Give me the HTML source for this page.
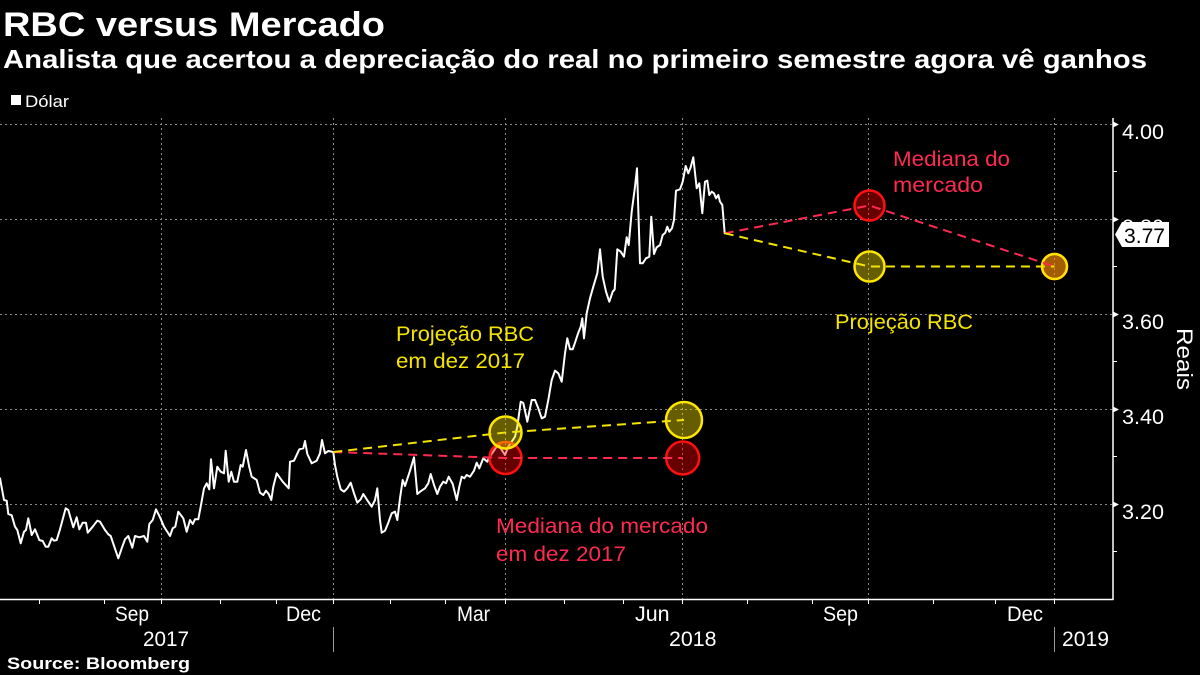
<!DOCTYPE html>
<html>
<head>
<meta charset="utf-8">
<style>
  html,body{margin:0;padding:0;background:#000;}
  svg{display:block;}
  text{font-family:"Liberation Sans", sans-serif;}
</style>
</head>
<body>
<svg width="1200" height="675" viewBox="0 0 1200 675" xmlns="http://www.w3.org/2000/svg">
  <rect x="0" y="0" width="1200" height="675" fill="#000"/>

  <!-- Title -->
  <text x="3" y="36" font-size="34" font-weight="bold" fill="#fff" textLength="382" lengthAdjust="spacingAndGlyphs">RBC versus Mercado</text>
  <text x="3" y="68" font-size="26" font-weight="bold" fill="#fff" textLength="1144" lengthAdjust="spacingAndGlyphs">Analista que acertou a depreciação do real no primeiro semestre agora vê ganhos</text>

  <!-- Legend -->
  <rect x="11" y="95" width="10" height="10" fill="#fff"/>
  <text x="25" y="107" font-size="16.5" fill="#fff" textLength="44" lengthAdjust="spacingAndGlyphs">Dólar</text>

  <!-- Gridlines horizontal -->
  <g stroke="#8a8a8a" stroke-width="1" stroke-dasharray="2,3">
    <line x1="0" y1="124.5" x2="1113" y2="124.5"/>
    <line x1="0" y1="219.5" x2="1113" y2="219.5"/>
    <line x1="0" y1="314.5" x2="1113" y2="314.5"/>
    <line x1="0" y1="409.5" x2="1113" y2="409.5"/>
    <line x1="0" y1="504.5" x2="1113" y2="504.5"/>
  </g>
  <!-- Gridlines vertical -->
  <g stroke="#8a8a8a" stroke-width="1" stroke-dasharray="2,3">
    <line x1="161.5" y1="118" x2="161.5" y2="599"/>
    <line x1="333.5" y1="118" x2="333.5" y2="599"/>
    <line x1="505.5" y1="118" x2="505.5" y2="599"/>
    <line x1="682.5" y1="118" x2="682.5" y2="599"/>
    <line x1="868.5" y1="118" x2="868.5" y2="599"/>
    <line x1="1054.5" y1="118" x2="1054.5" y2="599"/>
  </g>

  <!-- Axes -->
  <line x1="0" y1="599.5" x2="1113.5" y2="599.5" stroke="#fff" stroke-width="1.5"/>
  <line x1="1113" y1="118" x2="1113" y2="600" stroke="#fff" stroke-width="1.5"/>

  <!-- Bottom ticks -->
  <g stroke="#fff" stroke-width="1">
    <line x1="39.5" y1="599" x2="39.5" y2="604"/>
    <line x1="104.5" y1="599" x2="104.5" y2="604"/>
    <line x1="161.5" y1="599" x2="161.5" y2="604"/>
    <line x1="220.5" y1="599" x2="220.5" y2="604"/>
    <line x1="276.5" y1="599" x2="276.5" y2="604"/>
    <line x1="333.5" y1="599" x2="333.5" y2="604"/>
    <line x1="390.5" y1="599" x2="390.5" y2="604"/>
    <line x1="445.5" y1="599" x2="445.5" y2="604"/>
    <line x1="505.5" y1="599" x2="505.5" y2="604"/>
    <line x1="564.5" y1="599" x2="564.5" y2="604"/>
    <line x1="623.5" y1="599" x2="623.5" y2="604"/>
    <line x1="682.5" y1="599" x2="682.5" y2="604"/>
    <line x1="747.5" y1="599" x2="747.5" y2="604"/>
    <line x1="812.5" y1="599" x2="812.5" y2="604"/>
    <line x1="868.5" y1="599" x2="868.5" y2="604"/>
    <line x1="933.5" y1="599" x2="933.5" y2="604"/>
    <line x1="995.5" y1="599" x2="995.5" y2="604"/>
    <line x1="1054.5" y1="599" x2="1054.5" y2="604"/>
  </g>

  <!-- Year separators -->
  <g stroke="#9a9a9a" stroke-width="1">
    <line x1="333.5" y1="627" x2="333.5" y2="652"/>
    <line x1="1054.5" y1="627" x2="1054.5" y2="652"/>
  </g>

  <!-- Month labels -->
  <g font-size="21" fill="#fff">
    <text x="115" y="621" textLength="34" lengthAdjust="spacingAndGlyphs">Sep</text>
    <text x="286" y="621" textLength="35" lengthAdjust="spacingAndGlyphs">Dec</text>
    <text x="457" y="621" textLength="33" lengthAdjust="spacingAndGlyphs">Mar</text>
    <text x="635" y="621" textLength="34.5" lengthAdjust="spacingAndGlyphs">Jun</text>
    <text x="823" y="621" textLength="35" lengthAdjust="spacingAndGlyphs">Sep</text>
    <text x="1007" y="621" textLength="36" lengthAdjust="spacingAndGlyphs">Dec</text>
    <text x="143" y="646" textLength="46" lengthAdjust="spacingAndGlyphs">2017</text>
    <text x="669" y="646" textLength="47.5" lengthAdjust="spacingAndGlyphs">2018</text>
    <text x="1062" y="646" textLength="47" lengthAdjust="spacingAndGlyphs">2019</text>
  </g>

  <!-- Right axis ticks -->
  <g stroke="#fff" stroke-width="1">
    <line x1="1113" y1="171.5" x2="1117" y2="171.5"/>
    <line x1="1113" y1="266.5" x2="1117" y2="266.5"/>
    <line x1="1113" y1="361.5" x2="1117" y2="361.5"/>
    <line x1="1113" y1="456.5" x2="1117" y2="456.5"/>
    <line x1="1113" y1="551.5" x2="1117" y2="551.5"/>
  </g>
  <g fill="#fff">
    <polygon points="1113,121.5 1119,124.5 1113,127.5"/>
    <polygon points="1113,216.5 1119,219.5 1113,222.5"/>
    <polygon points="1113,311.5 1119,314.5 1113,317.5"/>
    <polygon points="1113,406.5 1119,409.5 1113,412.5"/>
    <polygon points="1113,501.5 1119,504.5 1113,507.5"/>
  </g>
  <g font-size="21" fill="#fff">
    <text x="1122" y="139" textLength="42" lengthAdjust="spacingAndGlyphs">4.00</text>
    <text x="1122" y="234" textLength="42" lengthAdjust="spacingAndGlyphs">3.80</text>
    <text x="1122" y="329" textLength="42" lengthAdjust="spacingAndGlyphs">3.60</text>
    <text x="1122" y="424" textLength="42" lengthAdjust="spacingAndGlyphs">3.40</text>
    <text x="1122" y="519" textLength="42" lengthAdjust="spacingAndGlyphs">3.20</text>
  </g>

  <!-- 3.77 last value box -->
  <polygon points="1115,234.5 1122,222 1169,222 1169,247 1122,247" fill="#fff"/>
  <text x="1124" y="243" font-size="21" fill="#000" textLength="41" lengthAdjust="spacingAndGlyphs">3.77</text>

  <!-- Reais -->
  <text transform="translate(1177,359) rotate(90)" text-anchor="middle" font-size="22" fill="#fff" textLength="62" lengthAdjust="spacingAndGlyphs">Reais</text>

  <!-- Dollar series -->
  <polyline fill="none" stroke="#fff" stroke-width="2" stroke-linejoin="round" stroke-linecap="round" points="
0,478.3 4,500 6.7,500.7 8.3,514 11.7,515.3 15,526.7 17.3,530 20.7,543.3 24,531.7 26,530 28.3,518.3 31.7,535 35,529.3 39.3,540 42.7,541 45.7,546.7 48.3,546.7 51.7,538.3 54,540.7 56.7,540 60,529.3 65.7,508.3 68.3,510 73.3,527.3 76.7,517.3 79.3,529.3 82.7,522.7 86,522.7 87.7,532.7 92.7,526.7 97.3,520.7 100,521.7 105,530 108.3,534.3 110.7,536 114.3,546.7 118.3,558.3 121.7,548.3 125,539.3 128.3,536 132.3,547.7 135,536 139.3,537.3 144,536 147.3,541.7 149.3,524 152.7,520 156,509.3 160,517.3 164,526.7 170,536 172.7,528.3 175.3,526.7 178.3,511.7 183.3,518.3 186.7,531.7 190,520 192.7,524 195,519.3 198.3,519.3 201,505 204,488.3 206.7,483.3 209.3,489.3 211,459.3 214,488.3 217.3,466.7 220.7,471.7 224,473.3 225.7,450.7 228.7,481.7 231.3,471.7 234,481.7 237.3,481.7 240.7,465 242.7,466.7 246,450 249.3,467.3 251.7,476.7 256.7,480 260,492.7 263.3,495 266,490.7 268.7,494 271.3,500 273.3,486.7 276.7,473.3 282.7,481.7 287.3,486.7 288.7,488.3 290,461.7 294,460.7 299.3,449.3 303.3,448.3 305,441 307.3,454 311.7,463.3 316.7,460.7 320,453.3 322,440 325,453.3 328.3,451 333.3,452
335,465 337.3,476.7 340.7,489.3 344,491.7 347.3,488.3 350.7,482.7 354,493.3 357.3,502.7 360.7,499.3 363.3,494 366.7,499.3 371.7,506.7 375,500 377.3,488.3 380,520 381.7,532.7 385,530.7 388.3,522.7 391.7,513.3 395,511.7 397.3,520 400,498.3 402.7,480 405,486 410,470.7 414,457.3 417.3,494 420,491.7 425,488.3 428.3,483.3 430.7,474 434,485 437.3,494 440,486.7 443.3,481.7 446,483.3 448.7,476.7 452.7,484 456.7,500 459.3,486.7 461.7,476.7 464.3,478.3 466.7,475 470,476.7 474,470.7 476.7,462.7 479.3,468.3 483.3,458.3 487.3,461.7 490,456 493.3,451.7 498.3,444 501.7,450 505,455 508.3,446.7 511.7,441.7 515,436.7 517.3,426.7 520.7,401.7 523.3,403 527.3,421.7 531.7,400 535,400 538.3,408.3 541.7,418.3 545,416.7 548.3,400 551.7,380 555,370.7 558.3,373.3 561.7,381.7 565,353.3 567.3,338.3 570,349.3 572.7,349.3 575,342.7 578.3,332.7 580.7,326.7 582.3,318.3 584,338.3 586.7,313.3 590,298.3 593.3,286.7 597.3,273.3 600,249.3 602.7,276.7 606,291.7 609.3,301.7 612.7,291.7 614.7,289.3 617.3,249.3 620.7,251.7 624,256.7 626.7,237.3 628.7,245 631.7,211.7 635,186.7 637,168.3 640,263.3 642.7,263.3 646,258.3 649.3,256.7 651.3,216.7 654,254 656.7,247.3 660,245 662.7,235 665.3,232.7 667.3,226.7 669.3,231.7 672,228.3 674,220 676,190.7 680,189.3 682.7,181.7 685.7,166 688.3,173.3 690.7,167.3 693.3,157.3 696.7,188.3 699.3,183.3 702.3,213.3 705,181.7 707.3,180.7 709.3,195 711.7,191.7 714,193.3 716,198.3 718.3,195 720,201.7 722.3,205 724.7,233.3"/>

  <!-- Circles -->
  <g stroke-width="2.5">
    <circle cx="505.5" cy="458" r="16" fill="#ff0000" fill-opacity="0.4" stroke="#ff1010"/>
    <circle cx="505.5" cy="432.5" r="16" fill="#ffe600" fill-opacity="0.4" stroke="#ffe600"/>
    <circle cx="682.7" cy="458" r="16.5" fill="#ff0000" fill-opacity="0.4" stroke="#ff1010"/>
    <circle cx="684" cy="420" r="18" fill="#ffe600" fill-opacity="0.4" stroke="#ffe600"/>
    <circle cx="869.5" cy="205.5" r="15" fill="#ff0000" fill-opacity="0.4" stroke="#ff1010"/>
    <circle cx="869.5" cy="266.5" r="15" fill="#ffe600" fill-opacity="0.4" stroke="#ffe600"/>
    <circle cx="1054.5" cy="266.5" r="12.5" fill="#ff0000" fill-opacity="0.4" stroke="#ff1010"/>
    <circle cx="1054.5" cy="266.5" r="12.5" fill="#ffe600" fill-opacity="0.4" stroke="#ffe600"/>
  </g>

  <!-- Dashed projection lines -->
  <g fill="none" stroke-width="2" stroke-dasharray="9,6">
    <polyline points="333.3,452 505.5,458 682.7,458" stroke="#ff2a50"/>
    <polyline points="333.3,452 505.5,432.5 684,420" stroke="#f5e400"/>
    <polyline points="724.7,233.3 869.5,205.5 1054.5,266.5" stroke="#ff2a50"/>
    <polyline points="724.7,233.3 869.5,266.5 1054.5,266.5" stroke="#f5e400"/>
  </g>

  <!-- Annotations -->
  <g font-size="21">
    <text x="396" y="341" fill="#f5e400" textLength="138" lengthAdjust="spacingAndGlyphs">Projeção RBC</text>
    <text x="396" y="368" fill="#f5e400" textLength="129" lengthAdjust="spacingAndGlyphs">em dez 2017</text>
    <text x="496" y="533" fill="#ff2a50" textLength="212" lengthAdjust="spacingAndGlyphs">Mediana do mercado</text>
    <text x="496" y="561" fill="#ff2a50" textLength="130" lengthAdjust="spacingAndGlyphs">em dez 2017</text>
    <text x="893" y="166" fill="#ff2a50" textLength="117" lengthAdjust="spacingAndGlyphs">Mediana do</text>
    <text x="893" y="192" fill="#ff2a50" textLength="90" lengthAdjust="spacingAndGlyphs">mercado</text>
    <text x="835" y="329" fill="#f5e400" textLength="138" lengthAdjust="spacingAndGlyphs">Projeção RBC</text>
  </g>

  <!-- Source -->
  <text x="7" y="669" font-size="17" font-weight="bold" fill="#fff" textLength="183" lengthAdjust="spacingAndGlyphs">Source: Bloomberg</text>
</svg>
</body>
</html>
